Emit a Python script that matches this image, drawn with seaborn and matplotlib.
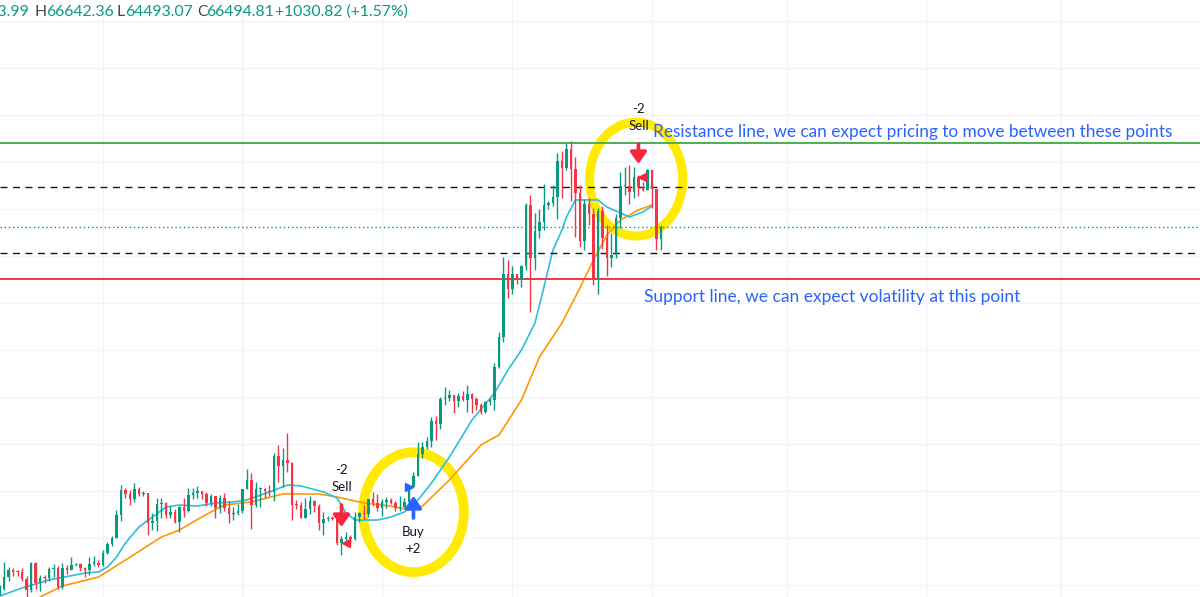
import pandas as pd
import seaborn as sns
import matplotlib.pyplot as plt
import matplotlib.dates as mdates
from matplotlib.ticker import MultipleLocator
from matplotlib.patches import Ellipse

sns.set_theme(style="white")
plt.rcParams["font.family"] = ["Lato", "DejaVu Sans"]

# --- Daily candles, 8 Nov 2023 -> 3 Apr 2024 ---
dates = pd.date_range("2023-11-08", "2024-04-03", freq="D")

opens = [
    35420, 35630, 36700, 37320, 37140, 37070, 36490, 35550, 37880, 36160, 36600, 36580, 37390,
    37460, 35810, 37450, 37310, 37720, 37800, 37480, 37250, 37830, 37860,
    37710, 38690, 39470, 39980, 41980, 44080, 43770, 43290, 44170, 43720, 43790, 41240, 41450,
    42890, 43020, 41930, 42240, 41360, 42660, 42270, 43650, 43860, 43990, 43740, 43020, 43610,
    42520, 43440, 42580, 42070, 42140,
    42280, 44180, 44950, 42850, 44150, 44160, 43970, 43930, 46970, 46120, 46630, 46370, 42850,
    42840, 41730, 42510, 43150, 42740, 41260, 41620, 41660, 41580, 39570, 39890, 40080, 39930,
    41820, 42120, 42030, 43300, 42940,
    42580, 43080, 43200, 43010, 42580, 42660, 43090, 44340, 45300, 47150, 47770, 48290, 49960,
    49700, 51800, 51940, 52160, 51660, 52120, 51780, 52280, 51840, 51300, 50730, 51570, 51730,
    54520, 57080, 62500,
    61200, 62440, 62030, 63170, 68330, 63800, 66110, 66930, 68300, 68500, 69020, 72120, 71480,
    73080, 71400, 69400, 65300, 68390, 67600, 61940, 67850, 65500, 63800, 64100, 67230, 69960,
    69990, 69450, 70740, 69890, 69640,
    71300, 69660, 65464,
]
highs = [
    35990, 37970, 37530, 37420, 37240, 37430, 36780, 37980, 37930, 36860, 36850, 37520, 37770,
    37650, 37870, 37680, 38420, 37900, 37840, 37560, 38380, 38440, 38140,
    38980, 39690, 40200, 42410, 44490, 44280, 44050, 44700, 44370, 44040, 43810, 42100, 43430,
    43410, 43080, 42700, 42430, 42740, 43440, 44280, 44220, 44400, 44020, 43950, 43780, 43610,
    43680, 43800, 43130, 42600, 42880,
    44200, 45900, 45500, 44780, 44350, 44230, 44480, 47250, 47900, 47700, 48970, 46500, 43250,
    43060, 43400, 43580, 43200, 42930, 42180, 41860, 41870, 41680, 40130, 40550, 40280, 42200,
    42200, 42840, 43310, 43880, 43750,
    43290, 43480, 43380, 43120, 43540, 43380, 44370, 45600, 48170, 48200, 48580, 50330, 50360,
    52040, 52820, 52570, 52200, 52380, 52490, 52980, 52370, 52020, 51530, 51680, 51950, 54910,
    57550, 63950, 63680,
    63180, 62450, 63230, 68540, 69170, 67640, 67990, 70170, 68660, 70000, 72800, 72950, 73650,
    73780, 72400, 70000, 68880, 68930, 68120, 68100, 68230, 66650, 65970, 67600, 71150, 71560,
    71710, 71560, 70880, 70340, 71370,
    71300, 69660, 66642,
]
lows = [
    35110, 35540, 36340, 36730, 36750, 36340, 34790, 35370, 35650, 35520, 36190, 36380, 36700,
    35640, 35650, 36930, 37270, 37640, 37180, 36720, 36880, 37640, 37530,
    37630, 38660, 39280, 39980, 41440, 43380, 42840, 43090, 43600, 43580, 40220, 40680, 40610,
    41690, 41680, 41720, 41260, 40540, 41820, 42210, 43330, 43420, 43300, 42760, 42740, 41680,
    42110, 42330, 41310, 41530, 41970,
    42170, 44180, 40750, 42650, 42620, 43420, 43590, 43180, 44750, 44300, 45600, 41500, 42440,
    41720, 41720, 42050, 42200, 40680, 40280, 41430, 41500, 39440, 38550, 39500, 39520, 39820,
    41400, 41640, 41800, 42700, 42280,
    41880, 42580, 42880, 42260, 42280, 42580, 42790, 44340, 45250, 46850, 47580, 47720, 48370,
    49280, 51320, 51620, 50640, 51170, 51680, 50760, 50630, 50920, 50520, 50600, 51290, 50920,
    54450, 56720, 60400,
    60800, 61590, 61320, 62800, 59220, 62850, 65570, 66210, 68000, 68220, 67190, 68900, 71340,
    68650, 65630, 64780, 64550, 66600, 61560, 60780, 64580, 62330, 63070, 63830, 66400, 69230,
    68400, 68900, 69100, 69560, 69600,
    68100, 64530, 64493,
]
closes = [
    35630, 36700, 37320, 37140, 37070, 36490, 35550, 37880, 36160, 36600, 36580, 37390, 37460,
    35810, 37450, 37310, 37720, 37800, 37480, 37250, 37830, 37860, 37710,
    38690, 39470, 39980, 41980, 44080, 43770, 43290, 44170, 43720, 43790, 41240, 41450, 42890,
    43020, 41930, 42240, 41360, 42660, 42270, 43650, 43860, 43990, 43740, 43020, 43610, 42520,
    43440, 42580, 42070, 42140, 42280,
    44180, 44950, 42850, 44150, 44160, 43970, 43930, 46970, 46120, 46630, 46370, 42850, 42840,
    41730, 42510, 43150, 42740, 41260, 41620, 41660, 41580, 39570, 39890, 40080, 39930, 41820,
    42120, 42030, 43300, 42940, 42580,
    43080, 43200, 43010, 42580, 42660, 43090, 44340, 45300, 47150, 47770, 48290, 49960, 49700,
    51800, 51940, 52160, 51660, 52120, 51780, 52280, 51840, 51300, 50730, 51570, 51730, 54520,
    57080, 62500, 61200,
    62440, 62030, 63170, 68330, 63800, 66110, 66930, 68300, 68500, 69020, 72120, 71480, 73080,
    71400, 69400, 65300, 68390, 67600, 61940, 67850, 65500, 63800, 64100, 67230, 69960, 69990,
    69450, 70740, 69890, 69640, 71300,
    69660, 65460, 66494.81,
]

# --- Moving averages as drawn on the chart ---
fast_ma_dates = [
    "2023-11-08", "2023-11-13", "2023-11-19", "2023-11-27", "2023-11-30", "2023-12-02",
    "2023-12-04", "2023-12-06", "2023-12-09", "2023-12-12", "2023-12-15", "2023-12-18",
    "2023-12-22", "2023-12-26", "2023-12-30", "2024-01-02", "2024-01-07", "2024-01-11",
    "2024-01-14", "2024-01-19", "2024-01-22", "2024-01-24", "2024-01-26", "2024-01-31",
    "2024-02-03", "2024-02-06", "2024-02-09", "2024-02-12", "2024-02-16", "2024-02-21",
    "2024-02-26", "2024-02-29", "2024-03-03", "2024-03-06", "2024-03-08", "2024-03-10",
    "2024-03-12", "2024-03-13", "2024-03-15", "2024-03-18", "2024-03-20", "2024-03-22",
    "2024-03-25", "2024-03-27", "2024-03-30", "2024-04-01",
]
fast_ma = [
    35050, 35750, 36430, 37020, 37110, 37530,
    38380, 39580, 40940, 41790, 42640, 42810,
    42720, 42980, 43070, 43240, 43920, 44510,
    44430, 43920, 43410, 42130, 41530, 41530,
    41790, 42220, 43240, 44680, 46900, 50040,
    52340, 54300, 56000, 58300, 61360, 64510,
    66210, 67320, 68770, 68770, 68770, 68170,
    67660, 67320, 67750, 68250,
]
slow_ma_dates = [
    "2023-11-17", "2023-11-22", "2023-11-30", "2023-12-06", "2023-12-14", "2023-12-18",
    "2023-12-21", "2023-12-25", "2023-12-28", "2024-01-03", "2024-01-10", "2024-01-18",
    "2024-01-22", "2024-01-28", "2024-02-03", "2024-02-07", "2024-02-10", "2024-02-16",
    "2024-02-23", "2024-02-27", "2024-03-03", "2024-03-07", "2024-03-12", "2024-03-16",
    "2024-03-19", "2024-03-22", "2024-03-25", "2024-03-29", "2024-04-01",
]
slow_ma = [
    34980, 35920, 36680, 38130, 40090, 40680,
    41360, 42220, 42810, 43070, 43750, 43750,
    43490, 42980, 42720, 42390, 42720, 44940,
    47920, 48770, 51750, 55400, 58300, 61280,
    63660, 65790, 67060, 67920, 68340,
]

# --- Horizontal drawings ---
resistance = 73600
support = 62050
range_levels = [69870, 64250]
last_close = 66494.81

# --- Strategy signals: (bar date, arrow tail, arrow tip, fill price) ---
sell_1 = ("2024-01-23", 42810, 40940, 39570)
buy_1 = ("2024-02-08", 41700, 43580, 44340)
sell_2 = ("2024-03-29", 73530, 71830, 70740)

UP, DOWN = "#089981", "#F23645"

df = pd.DataFrame({"date": dates, "open": opens, "high": highs, "low": lows, "close": closes})
df["color"] = [UP if c >= o else DOWN for o, c in zip(df["open"], df["close"])]
df["body_lo"] = df[["open", "close"]].min(axis=1)
df["body_h"] = (df["close"] - df["open"]).abs().clip(lower=90)

fast = pd.DataFrame({"date": pd.to_datetime(fast_ma_dates), "value": fast_ma})
slow = pd.DataFrame({"date": pd.to_datetime(slow_ma_dates), "value": slow_ma})

# --- Figure ---
fig = plt.figure(figsize=(12, 5.97), dpi=100)
ax = fig.add_axes([0, 0, 1, 1])
ax.set_facecolor("white")

d0 = pd.Timestamp("2023-12-01")
ax.set_xlim(d0 - pd.Timedelta(days=22.89), d0 + pd.Timedelta(days=243.8))
ax.set_ylim(34981, 85786)

ax.xaxis.set_major_locator(mdates.MonthLocator())
ax.yaxis.set_major_locator(MultipleLocator(4000))
ax.grid(True, color="#F0F3FA", lw=1)
ax.tick_params(left=False, bottom=False, labelleft=False, labelbottom=False)
for s in ax.spines.values():
    s.set_visible(False)

# hand-drawn highlight loops
YELLOW = "#FFEA00"
ax.add_patch(Ellipse((pd.Timestamp("2024-02-08"), 42200), 22.4, 10200,
                     fill=False, ec=YELLOW, lw=7, zorder=1.5))
ax.add_patch(Ellipse((pd.Timestamp("2024-03-28 12:00"), 70550), 20.7, 9700,
                     fill=False, ec=YELLOW, lw=6.5, zorder=1.5))

# moving averages
sns.lineplot(data=slow, x="date", y="value", color="#FF9800", lw=1.2, ax=ax, zorder=2)
sns.lineplot(data=fast, x="date", y="value", color="#2BC0D9", lw=1.2, ax=ax, zorder=2)

# candles
ax.vlines(df["date"], df["low"], df["high"], colors=df["color"], lw=1, zorder=3)
ax.bar(df["date"], df["body_h"], bottom=df["body_lo"], width=0.62,
       color=df["color"], linewidth=0, zorder=4)

# level lines
ax.axhline(resistance, color="#4CAF50", lw=1.4, zorder=2.5)
ax.axhline(support, color="#F23645", lw=1.4, zorder=2.5)
for lvl in range_levels:
    ax.axhline(lvl, color="#131722", lw=1, ls=(0, (5, 4)), zorder=2.5)
ax.axhline(last_close, color=UP, lw=1, ls=(0, (1, 2)), zorder=2.5)

# signals
def signal(sig, color, word, qty, above):
    day, tail, tip, fill = sig
    d = pd.Timestamp(day)
    ax.annotate("", xy=(d, tip), xytext=(d, tail),
                arrowprops=dict(arrowstyle="-|>,head_length=0.5,head_width=0.35",
                                color=color, lw=2.6, mutation_scale=14,
                                shrinkA=0, shrinkB=0), zorder=6)
    if above:
        ax.text(d, tail + 1500, word, ha="center", va="center", fontsize=9.5, color="#131722")
        ax.text(d, tail + 3000, qty, ha="center", va="center", fontsize=9.5, color="#131722")
        ax.plot(d + pd.Timedelta(days=0.9), fill, marker="<", ms=6, color=color, zorder=6)
    else:
        ax.text(d, tail - 1200, word, ha="center", va="center", fontsize=9.5, color="#131722")
        ax.text(d, tail - 2650, qty, ha="center", va="center", fontsize=9.5, color="#131722")
        ax.plot(d - pd.Timedelta(days=0.9), fill, marker=">", ms=6, color=color, zorder=6)

signal(sell_1, "#F7253E", "Sell", "-2", True)
signal(buy_1, "#2962FF", "Buy", "+2", False)
signal(sell_2, "#F7253E", "Sell", "-2", True)

# notes
ax.text(pd.Timestamp("2024-04-01 08:00"), 74550,
        "Resistance line, we can expect pricing to move between these points",
        color="#2962FF", fontsize=12.4, ha="left", va="center")
ax.text(pd.Timestamp("2024-03-30 07:00"), 60510,
        "Support line, we can expect volatility at this point",
        color="#2962FF", fontsize=12.5, ha="left", va="center")

# legend row (OHLC of the last bar), clipped at the left edge as in the source
hy = 1 - 12 / 597
fig.text(29 / 1200, hy, "65463.99", color=UP, fontsize=11.3, ha="right", va="center")
for px, txt, col in [(34, "H", "#434651"), (46, "66642.36", UP), (116, "L", "#434651"),
                     (125, "64493.07", UP), (197, "C", "#434651"), (206, "66494.81", UP),
                     (275, "+1030.82 (+1.57%)", UP)]:
    fig.text(px / 1200, hy, txt, color=col, fontsize=11.3, ha="left", va="center")

plt.savefig("out.png", dpi=100)
